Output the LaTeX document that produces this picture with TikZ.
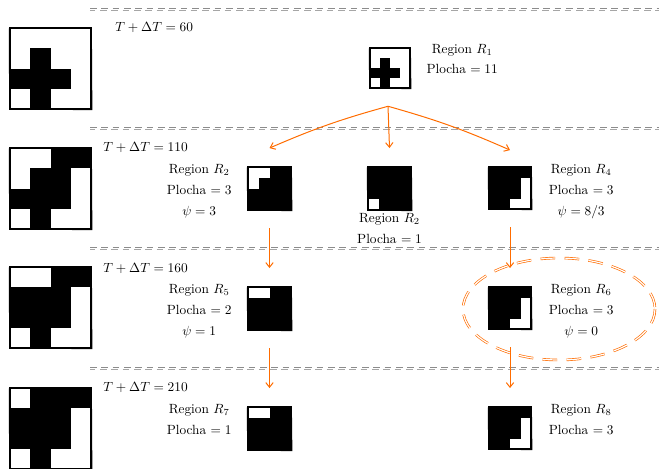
\documentclass[tikz,border=0pt]{standalone}
\usetikzlibrary{positioning,arrows.meta}

\tikzset{
  sepline/.style={draw=gray!90, line width=0.6pt, dash pattern=on 5pt off 3.5pt},
  frame/.style={draw=black, line width=0.9pt},
  lbl/.style={align=center, font=\linespread{1.3}\selectfont, inner sep=1pt},
  tlbl/.style={anchor=west, inner sep=0pt},
  flow/.style={draw=orange!85!red, line width=0.75pt, -{Straight Barb[length=3.5pt,width=5.5pt]}},
}

% #1 name, #2 x, #3 y (top left, px), #4 size, #5 ground, #6 cell colour, #7 cells
\newcommand{\regbox}[7]{%
  \fill[#5] (#2,#3) rectangle ++(#4,#4);
  \foreach \cx/\cy in {#7}
    \fill[#6] ({#2+\cx*#4/4},{#3+\cy*#4/4}) rectangle ++({#4/4},{#4/4});
  \draw[frame] (#2,#3) rectangle ++(#4,#4);
  \draw[frame, line width=0.4pt] ({#2-0.9},{#3+0.7}) -- ({#2+#4+0.6},{#3-0.6})
    -- ({#2+#4+1.1},{#3+#4+0.8}) -- ({#2-0.6},{#3+#4+0.5}) -- cycle;
  \node[inner sep=0pt, minimum size=#4*0.75pt] (#1) at ({#2+#4/2},{#3+#4/2}) {};
}

\begin{document}
\begin{tikzpicture}[x=0.75pt, y=-0.75pt]
\useasboundingbox (0,0) rectangle (659,468);

% separators
\foreach \sy in {9,128,248,368} {
  \draw[sepline] (90,\sy-1) -- (659,\sy-1);
  \draw[sepline, gray!70, dash phase=1pt] (90,\sy+1.8) -- (659,\sy+1.8);
}

% whole picture at each time step
\regbox{g1}{10}{28}{81}{white}{black}{1/1,0/2,1/2,2/2,1/3}
\regbox{g2}{10}{148}{81}{white}{black}{2/0,3/0,1/1,2/1,0/2,1/2,2/2,1/3}
\regbox{g3}{10}{267}{81}{white}{black}{2/0,3/0,0/1,1/1,2/1,0/2,1/2,2/2,1/3}
\regbox{g4}{10}{388}{81}{white}{black}{1/0,2/0,3/0,0/1,1/1,2/1,0/2,1/2,2/2,1/3}

\node[tlbl] (t1) at (115,27) {$T+\Delta T=60$};
\node[tlbl] (t2) at (103,147) {$T+\Delta T=110$};
\node[tlbl] (t3) at (103,268) {$T+\Delta T=160$};
\node[tlbl] (t4) at (103,387) {$T+\Delta T=210$};

% regions
\regbox{r1}{370}{48}{40}{white}{black}{1/1,0/2,1/2,2/2,1/3}
\regbox{r2}{248}{167}{43}{black}{white}{0/0,1/0,0/1}
\regbox{r3}{368}{167}{43}{black}{white}{0/3}
\regbox{r4}{489}{167}{42}{black}{white}{3/1,3/2,2/3,3/3}
\regbox{r5}{248}{287}{43}{black}{white}{0/0,1/0}
\regbox{r6}{489}{287}{42}{black}{white}{3/1,3/2,2/3,3/3}
\regbox{r7}{248}{407}{43}{black}{white}{0/0,1/0}
\regbox{r8}{489}{407}{42}{black}{white}{3/1,3/2,2/3,3/3}

\node[lbl, right=11pt of r1.north east, anchor=north west, yshift=4pt] (l1)
  {Region $R_1$\\Plocha $=11$};
\node[lbl, left=11pt of r2.north west, anchor=north east, yshift=3pt] (l2)
  {Region $R_2$\\Plocha $=3$\\$\psi=3$};
\node[lbl, below=1pt of r3] (l3) {Region $R_2$\\Plocha $=1$};
\node[lbl, right=12pt of r4.north east, anchor=north west, yshift=3pt] (l4)
  {Region $R_4$\\Plocha $=3$\\$\psi=8/3$};
\node[lbl, left=11pt of r5.north west, anchor=north east, yshift=3pt] (l5)
  {Region $R_5$\\Plocha $=2$\\$\psi=1$};
\node[lbl, right=12pt of r6.north east, anchor=north west, yshift=3pt] (l6)
  {Region $R_6$\\Plocha $=3$\\$\psi=0$};
\node[lbl, left=11pt of r7.north west, anchor=north east, yshift=3pt] (l7)
  {Region $R_7$\\Plocha $=1$};
\node[lbl, right=12pt of r8.north east, anchor=north west, yshift=3pt] (l8)
  {Region $R_8$\\Plocha $=3$};

% splitting and following
\coordinate (fork) at ([xshift=-1.5pt, yshift=-13.5pt]r1.south);
\draw[flow] (fork) to[bend right=4] ([yshift=14pt]r2.north);
\draw[flow] (fork) -- ([yshift=14pt]r3.north);
\draw[flow] (fork) to[bend left=4] ([yshift=12.5pt]r4.north);
\draw[flow, shorten <=13.5pt, shorten >=14pt] (r2.south) -- (r5.north);
\draw[flow, shorten <=13.5pt, shorten >=14pt] (r4.south) -- (r6.north);
\draw[flow, shorten <=13.5pt, shorten >=14pt] (r5.south) -- (r7.north);
\draw[flow, shorten <=13.5pt, shorten >=14pt] (r6.south) -- (r8.north);

% chosen region
\draw[draw=orange!85!red, line width=0.5pt, double=white, double distance=0.9pt,
  dash pattern=on 11pt off 7pt] (559,309) ellipse [x radius=96, y radius=51];
\end{tikzpicture}
\end{document}
